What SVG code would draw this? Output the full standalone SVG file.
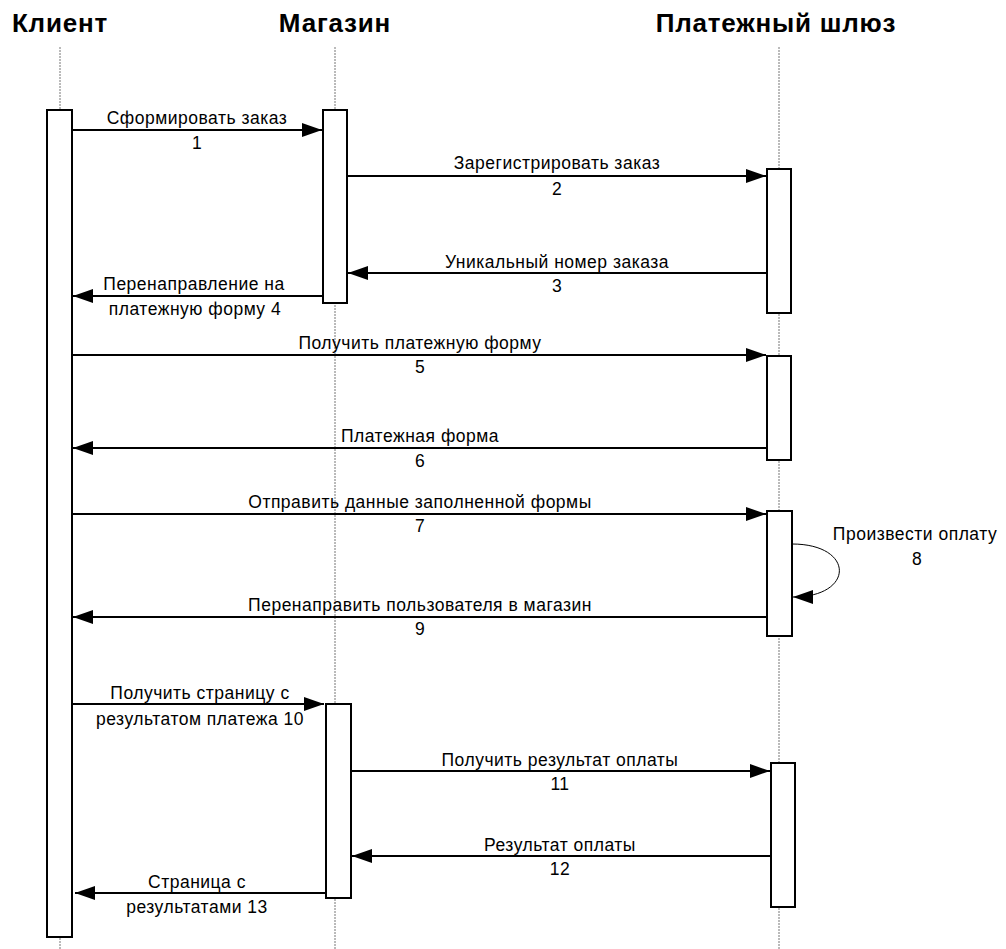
<svg xmlns="http://www.w3.org/2000/svg" width="1006" height="949" viewBox="0 0 1006 949">
<style>
.hdr{font-family:"Liberation Sans",Arial,sans-serif;font-weight:bold;font-size:26px;letter-spacing:0.8px;fill:#000;text-anchor:middle}
.lbl{font-family:"Liberation Sans",Arial,sans-serif;font-size:17.5px;letter-spacing:0.5px;fill:#000;text-anchor:middle}
.life{stroke:#777;stroke-width:1;stroke-dasharray:2,1;fill:none}
.act{fill:#fff;stroke:#000;stroke-width:2}
.msg{stroke:#000;stroke-width:2;fill:none;marker-end:url(#ah)}
.self{stroke:#000;stroke-width:1;fill:none;marker-end:url(#ah2)}
</style>
<defs>
<marker id="ah" markerWidth="20" markerHeight="14" refX="20" refY="7" orient="auto" markerUnits="userSpaceOnUse">
<path d="M0,0 L20,7 L0,14 Z" fill="#000"/>
</marker>
<marker id="ah2" markerWidth="20" markerHeight="14" refX="20" refY="7" orient="auto" markerUnits="userSpaceOnUse">
<path d="M0,0 L20,7 L0,14 Z" fill="#000"/>
</marker>
</defs>
<rect width="1006" height="949" fill="#fff"/>
<g id="client">
<text class="hdr" x="60" y="32">Клиент</text>
<line class="life" x1="60" y1="47" x2="60" y2="949"/>
<rect class="act" x="47" y="110" width="25" height="827"/>
</g>
<g id="shop">
<text class="hdr" x="335" y="32">Магазин</text>
<line class="life" x1="335" y1="47" x2="335" y2="949"/>
<rect class="act" x="323" y="110" width="24" height="193"/>
<rect class="act" x="326" y="704" width="25" height="194"/>
</g>
<g id="gateway">
<text class="hdr" x="776" y="32">Платежный шлюз</text>
<line class="life" x1="779" y1="47" x2="779" y2="949"/>
<rect class="act" x="767" y="169" width="24" height="144"/>
<rect class="act" x="767" y="356" width="24" height="104"/>
<rect class="act" x="767" y="511" width="25" height="125"/>
<rect class="act" x="771" y="763" width="24" height="144"/>
</g>
<g id="connectors">
<line class="msg" x1="72" y1="130" x2="322" y2="130"/>
<line class="msg" x1="347" y1="176" x2="766" y2="176"/>
<line class="msg" x1="766" y1="273" x2="348" y2="273"/>
<line class="msg" x1="322" y1="296" x2="73" y2="296"/>
<line class="msg" x1="72" y1="355" x2="766" y2="355"/>
<line class="msg" x1="766" y1="448" x2="73" y2="448"/>
<line class="msg" x1="72" y1="514" x2="766" y2="514"/>
<path class="self" d="M792,544 C855,544 855,597 793,597"/>
<line class="msg" x1="766" y1="617" x2="73" y2="617"/>
<line class="msg" x1="73" y1="704" x2="324" y2="704"/>
<line class="msg" x1="351" y1="771" x2="770" y2="771"/>
<line class="msg" x1="770" y1="856" x2="352" y2="856"/>
<line class="msg" x1="325" y1="893" x2="75" y2="893"/>
</g>
<g id="labels">
<text class="lbl" x="197" y="124">Сформировать заказ</text>
<text class="lbl" x="197" y="149">1</text>
<text class="lbl" x="557" y="169">Зарегистрировать заказ</text>
<text class="lbl" x="557" y="195">2</text>
<text class="lbl" x="557" y="268">Уникальный номер заказа</text>
<text class="lbl" x="557" y="292">3</text>
<text class="lbl" x="194" y="290">Перенаправление на</text>
<text class="lbl" x="195" y="315">платежную форму 4</text>
<text class="lbl" x="420" y="349">Получить платежную форму</text>
<text class="lbl" x="420" y="373">5</text>
<text class="lbl" x="420" y="442">Платежная форма</text>
<text class="lbl" x="420" y="467">6</text>
<text class="lbl" x="420" y="508">Отправить данные заполненной формы</text>
<text class="lbl" x="420" y="532">7</text>
<text class="lbl" x="915" y="540">Произвести оплату</text>
<text class="lbl" x="917" y="565">8</text>
<text class="lbl" x="420" y="611">Перенаправить пользователя в магазин</text>
<text class="lbl" x="420" y="635">9</text>
<text class="lbl" x="200" y="699">Получить страницу с</text>
<text class="lbl" x="200" y="725">результатом платежа 10</text>
<text class="lbl" x="560" y="766">Получить результат оплаты</text>
<text class="lbl" x="560" y="790">11</text>
<text class="lbl" x="560" y="851">Результат оплаты</text>
<text class="lbl" x="560" y="875">12</text>
<text class="lbl" x="197" y="888">Страница с</text>
<text class="lbl" x="197" y="913">результатами 13</text>
</g>
</svg>
